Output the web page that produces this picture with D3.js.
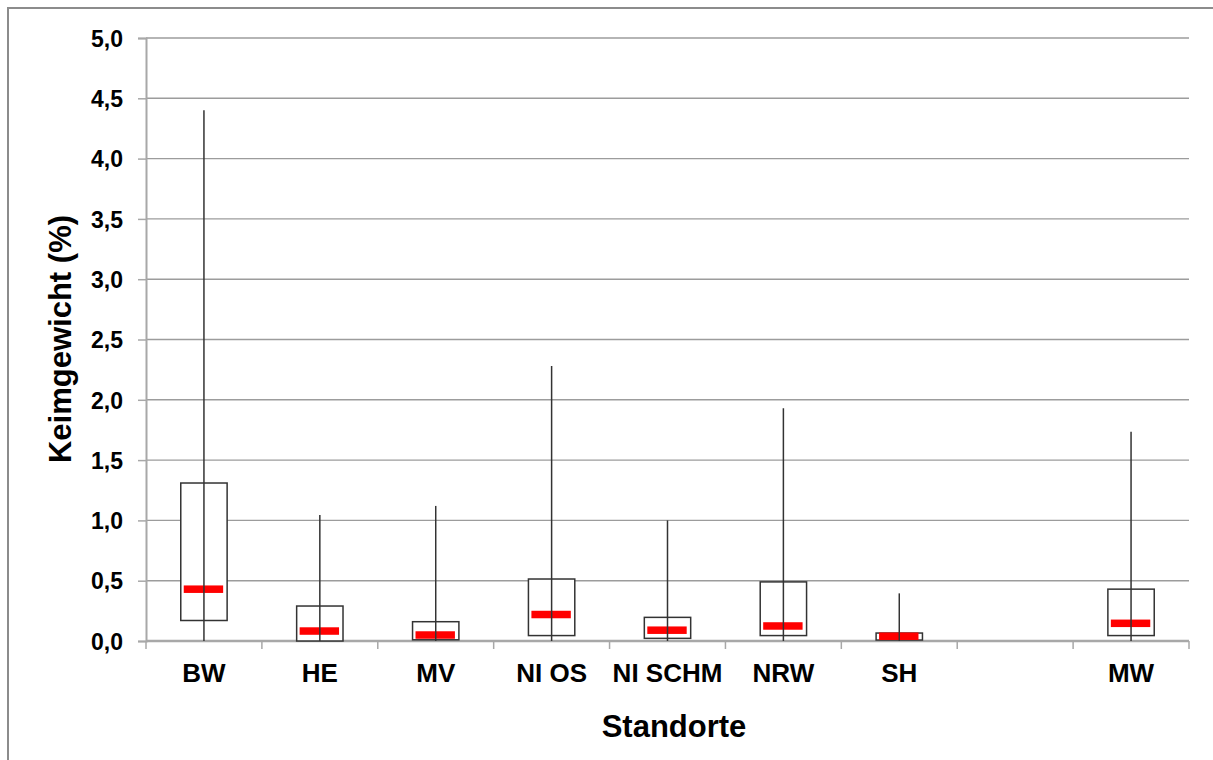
<!DOCTYPE html>
<meta charset="utf-8">
<style>
body { margin: 0; background: #fff; }
.tick text { font: bold 23px "Liberation Sans", Arial, sans-serif; fill: #000; }
.title { font: bold 31px "Liberation Sans", Arial, sans-serif; fill: #000; }
</style>
<body>
<script src="https://d3js.org/d3.v7.min.js"></script>
<script>

// categories (one empty slot between SH and MW)
var categories = ["BW", "HE", "MV", "NI OS", "NI SCHM", "NRW", "SH", "", "MW"];

// box plot values (Keimgewicht %)
var minVals    = [0.00, 0.00, 0.00, 0.00, 0.00, 0.00, 0.00, null, 0.00];
var q1Vals     = [0.17, 0.00, 0.01, 0.045, 0.022, 0.045, 0.008, null, 0.045];
var medianVals = [0.43, 0.083, 0.05, 0.22, 0.09, 0.125, 0.04, null, 0.147];
var q3Vals     = [1.31, 0.29, 0.16, 0.514, 0.196, 0.49, 0.066, null, 0.43];
var maxVals    = [4.40, 1.045, 1.12, 2.28, 1.00, 1.93, 0.395, null, 1.735];

var yTicks = [0, 0.5, 1, 1.5, 2, 2.5, 3, 3.5, 4, 4.5, 5];

var W = 1213, H = 760;
var margin = {top: 38, right: 24, bottom: 119, left: 146},
    width = 1189 - margin.left,
    height = 641 - margin.top;

var svg = d3.select("body").append("svg")
    .attr("width", W)
    .attr("height", H);

// outer frame
svg.append("rect")
    .attr("x", 8).attr("y", 8)
    .attr("width", W + 10).attr("height", H + 10)
    .attr("fill", "none")
    .attr("stroke", "#8c8c8c")
    .attr("stroke-width", 2);

var g = svg.append("g")
    .attr("transform", "translate(" + margin.left + "," + margin.top + ")");

var x = d3.scaleBand().domain(categories).range([0, width]);
var y = d3.scaleLinear().domain([0, 5]).range([height, 0]);

// gridlines
g.selectAll(".grid")
    .data(yTicks.slice(1))
  .enter().append("line")
    .attr("class", "grid")
    .attr("x1", 0).attr("x2", width)
    .attr("y1", function(d) { return y(d); })
    .attr("y2", function(d) { return y(d); })
    .attr("stroke", "#9c9c9c")
    .attr("stroke-width", 1.4);

// y axis
var yAxis = g.append("g")
    .call(d3.axisLeft(y)
      .tickValues(yTicks)
      .tickSize(8)
      .tickPadding(15)
      .tickFormat(function(d) { return d3.format(".1f")(d).replace(".", ","); }));
yAxis.select(".domain").attr("stroke", "#a8a8a8").attr("stroke-width", 2);
yAxis.selectAll(".tick line").attr("stroke", "#a8a8a8").attr("stroke-width", 1.5);
yAxis.selectAll(".tick text").attr("dy", "0.36em");

// x axis: ticks at band boundaries
var xAxis = g.append("g")
    .attr("transform", "translate(0," + height + ")");
xAxis.append("line")
    .attr("x1", 0).attr("x2", width)
    .attr("stroke", "#a8a8a8").attr("stroke-width", 2.5);
xAxis.selectAll(".xt")
    .data(categories.concat(["end"]))
  .enter().append("line")
    .attr("class", "xt")
    .attr("x1", function(d, i) { return i * x.bandwidth(); })
    .attr("x2", function(d, i) { return i * x.bandwidth(); })
    .attr("y1", 0).attr("y2", 8)
    .attr("stroke", "#a8a8a8").attr("stroke-width", 1.5);
xAxis.selectAll(".xl")
    .data(categories)
  .enter().append("text")
    .attr("class", "xl")
    .attr("x", function(d) { return x(d) + x.bandwidth() / 2; })
    .attr("y", 41)
    .attr("text-anchor", "middle")
    .style("font", "bold 26px 'Liberation Sans', Arial, sans-serif")
    .text(function(d) { return d; });

// boxes
var idx = d3.range(categories.length).filter(function(i) { return maxVals[i] !== null; });
var boxW = x.bandwidth() * 0.4, medW = x.bandwidth() * 0.34;

var boxes = g.selectAll(".box")
    .data(idx)
  .enter().append("g")
    .attr("class", "box")
    .attr("transform", function(i) { return "translate(" + (x(categories[i]) + x.bandwidth() / 2) + ",0)"; });

boxes.append("rect")
    .attr("x", -boxW / 2)
    .attr("width", boxW)
    .attr("y", function(i) { return y(q3Vals[i]); })
    .attr("height", function(i) { return y(q1Vals[i]) - y(q3Vals[i]); })
    .attr("fill", "#fff")
    .attr("stroke", "#333")
    .attr("stroke-width", 1.5);

boxes.append("rect")
    .attr("x", -medW / 2 - 0.5)
    .attr("width", medW)
    .attr("y", function(i) { return y(medianVals[i]) - 3.7; })
    .attr("height", 7.5)
    .attr("fill", "#ff0000");

boxes.append("line")
    .attr("x1", 0).attr("x2", 0)
    .attr("y1", function(i) { return y(maxVals[i]); })
    .attr("y2", function(i) { return y(minVals[i]); })
    .attr("stroke", "#333")
    .attr("stroke-width", 1.5);

// axis titles
svg.append("text")
    .attr("class", "title")
    .attr("x", 674).attr("y", 737)
    .attr("text-anchor", "middle")
    .text("Standorte");

svg.append("text")
    .attr("class", "title")
    .attr("transform", "translate(71,339) rotate(-90)")
    .attr("text-anchor", "middle")
    .text("Keimgewicht (%)");

</script>
</body>
